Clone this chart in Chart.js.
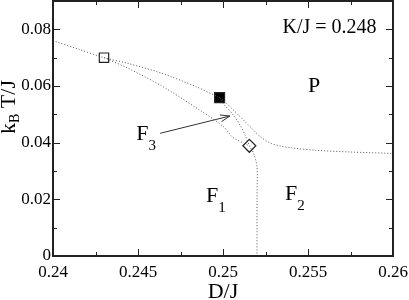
<!DOCTYPE html>
<html>
<head>
<meta charset="utf-8">
<script src="https://cdn.jsdelivr.net/npm/chart.js@4.4.0/dist/chart.umd.min.js"></script>
<style>
  html, body { margin: 0; padding: 0; background: #fff; }
  #wrap { width: 409px; height: 300px; }
</style>
</head>
<body>
<div id="wrap"><canvas id="chart" width="409" height="300"></canvas></div>
<script>
// phase diagram at K/J = 0.248, x = D/J, y = kB T/J
const upperD = [0.2400, 0.2415, 0.2430, 0.2444, 0.2464, 0.2484, 0.2498];
const upperT = [0.0760, 0.0730, 0.0700, 0.0680, 0.0645, 0.0598, 0.0559];

const outerD = [0.2498, 0.2501, 0.2510, 0.2516, 0.2522, 0.2528, 0.2534, 0.2541, 0.2555, 0.2575, 0.2600];
const outerT = [0.0559, 0.0545, 0.0492, 0.0456, 0.0421, 0.0398, 0.0388, 0.0381, 0.0373, 0.0367, 0.0362];

const innerD = [0.2498, 0.2500, 0.2506, 0.2510, 0.2513, 0.25155];
const innerT = [0.0559, 0.0539, 0.0498, 0.0462, 0.0427, 0.0389];

const lowerD = [0.2430, 0.2444, 0.2464, 0.2485, 0.2500, 0.2506, 0.25155];
const lowerT = [0.0700, 0.0663, 0.0600, 0.0520, 0.0458, 0.0418, 0.0389];

const vertD = [0.25155, 0.2518, 0.2520, 0.2520, 0.2520];
const vertT = [0.0389, 0.0362, 0.0315, 0.0200, 0.0];

// special points: open square, filled square, diamond
const openSq = [0.2430, 0.0700];
const fullSq = [0.2498, 0.0559];
const diamond = [0.25155, 0.0389];

// arrow pointing at the F3 region
const arrowD = [0.2463, 0.2504];
const arrowT = [0.0433, 0.0494];

const xTicks = [0.24, 0.245, 0.25, 0.255, 0.26];
const yTicks = [0, 0.02, 0.04, 0.06, 0.08];

// text in the plot: [main, subscript, D, T]
const notes = [
  ['K/J = 0.248', '', 0.2535, 0.0787],
  ['P', '', 0.2550, 0.0579],
  ['F', '3', 0.2449, 0.0409],
  ['F', '1', 0.2490, 0.0192],
  ['F', '2', 0.25365, 0.0198]
];

const serif = "'Liberation Serif', 'Times New Roman', serif";
const lineGray = '#555';

function pts(xs, ys) {
  return xs.map((x, i) => ({ x: x, y: ys[i] }));
}

function curve(xs, ys) {
  return {
    data: pts(xs, ys),
    showLine: true,
    borderColor: lineGray,
    borderWidth: 1,
    borderDash: [1, 2],
    pointRadius: 0,
    tension: 0.3
  };
}

function marker(p, style, fill, r) {
  return {
    data: [{ x: p[0], y: p[1] }],
    pointStyle: style,
    pointRadius: r,
    pointBackgroundColor: fill,
    pointBorderColor: '#222',
    pointBorderWidth: 1.2,
    showLine: false
  };
}

// frame with inward ticks on all four sides, titles and notes
const decor = {
  id: 'decor',
  afterDatasetsDraw(chart) {
    const { ctx, chartArea: a, scales: { x, y } } = chart;
    ctx.save();
    ctx.strokeStyle = '#222';
    ctx.lineWidth = 1;
    ctx.beginPath();
    for (let v = 0.24; v <= 0.26 + 1e-9; v += 0.0025) {
      const px = Math.round(x.getPixelForValue(v)) + 0.5;
      const major = Math.abs(v / 0.005 - Math.round(v / 0.005)) < 1e-6;
      const len = major ? 7 : 4;
      ctx.moveTo(px, a.bottom); ctx.lineTo(px, a.bottom - len);
      ctx.moveTo(px, a.top); ctx.lineTo(px, a.top + len);
    }
    for (let v = 0; v <= 0.09 + 1e-9; v += 0.01) {
      const py = Math.round(y.getPixelForValue(v)) + 0.5;
      const major = Math.round(v * 100) % 2 === 0;
      const len = major ? 7 : 4;
      ctx.moveTo(a.left, py); ctx.lineTo(a.left + len, py);
      ctx.moveTo(a.right, py); ctx.lineTo(a.right - len, py);
    }
    ctx.stroke();
    ctx.lineWidth = 2;
    ctx.strokeRect(a.left, a.top, a.right - a.left, a.bottom - a.top);

    // arrow head
    const tx = x.getPixelForValue(arrowD[1]), ty = y.getPixelForValue(arrowT[1]);
    const sx = x.getPixelForValue(arrowD[0]), sy = y.getPixelForValue(arrowT[0]);
    const ang = Math.atan2(ty - sy, tx - sx);
    ctx.lineWidth = 1;
    ctx.strokeStyle = '#333';
    ctx.beginPath();
    ctx.moveTo(tx - 10 * Math.cos(ang - 0.35), ty - 10 * Math.sin(ang - 0.35));
    ctx.lineTo(tx, ty);
    ctx.lineTo(tx - 10 * Math.cos(ang + 0.35), ty - 10 * Math.sin(ang + 0.35));
    ctx.stroke();

    // notes
    ctx.fillStyle = '#000';
    ctx.textBaseline = 'alphabetic';
    ctx.textAlign = 'left';
    notes.forEach(n => {
      const px = x.getPixelForValue(n[2]), py = y.getPixelForValue(n[3]);
      const big = n[0] === 'K/J = 0.248' ? 20 : 22;
      ctx.font = big + 'px ' + serif;
      ctx.fillText(n[0], px, py);
      if (n[1]) {
        const w = ctx.measureText(n[0]).width;
        ctx.font = '15px ' + serif;
        ctx.fillText(n[1], px + w, py + 10);
      }
    });

    // x title
    ctx.font = '22px ' + serif;
    ctx.textAlign = 'center';
    ctx.fillText('D/J', x.getPixelForValue(0.25), 298);

    // y title, k_B T/J rotated
    ctx.translate(15, 107);
    ctx.rotate(-Math.PI / 2);
    ctx.textAlign = 'left';
    ctx.font = '22px ' + serif;
    const wk = ctx.measureText('k').width;
    const wt = ctx.measureText(' T/J').width;
    ctx.font = '14px ' + serif;
    const wb = ctx.measureText('B').width;
    let cx = -(wk + wb + wt) / 2;
    ctx.font = '22px ' + serif;
    ctx.fillText('k', cx, 0);
    cx += wk;
    ctx.font = '14px ' + serif;
    ctx.fillText('B', cx, 4);
    cx += wb;
    ctx.font = '22px ' + serif;
    ctx.fillText(' T/J', cx, 0);
    ctx.restore();
  }
};

const ctx = document.getElementById('chart').getContext('2d');
const chart = new Chart(ctx, {
  type: 'scatter',
  data: {
    datasets: [
      curve(upperD, upperT),
      curve(outerD, outerT),
      curve(innerD, innerT),
      curve(lowerD, lowerT),
      curve(vertD, vertT),
      {
        data: pts(arrowD, arrowT),
        showLine: true,
        borderColor: '#333',
        borderWidth: 1,
        pointRadius: 0,
        tension: 0
      },
      marker(openSq, 'rect', '#fff', 6.6),
      marker(fullSq, 'rect', '#000', 7),
      marker(diamond, 'rectRot', '#fff', 6.5)
    ]
  },
  options: {
    responsive: false,
    animation: false,
    layout: { autoPadding: false, padding: { top: 1, right: 16, left: 0, bottom: 0 } },
    plugins: { legend: { display: false }, tooltip: { enabled: false } },
    scales: {
      x: {
        type: 'linear',
        min: 0.24,
        max: 0.26,
        afterBuildTicks: s => { s.ticks = xTicks.map(v => ({ value: v })); },
        afterFit: s => { s.height = 44; s.paddingLeft = 0; s.paddingRight = 0; },
        grid: { display: false, drawTicks: false },
        border: { display: false },
        ticks: {
          padding: 6,
          color: '#000',
          maxRotation: 0,
          font: { family: serif, size: 17 },
          callback: v => String(+v.toFixed(3))
        }
      },
      y: {
        type: 'linear',
        min: 0,
        max: 0.09,
        afterBuildTicks: s => { s.ticks = yTicks.map(v => ({ value: v })); },
        afterFit: s => { s.width = 53; s.paddingTop = 0; s.paddingBottom = 0; },
        grid: { display: false, drawTicks: false },
        border: { display: false },
        ticks: {
          padding: 2,
          color: '#000',
          font: { family: serif, size: 17 },
          callback: v => String(+v.toFixed(2))
        }
      }
    }
  },
  plugins: [decor]
});
</script>
</body>
</html>
